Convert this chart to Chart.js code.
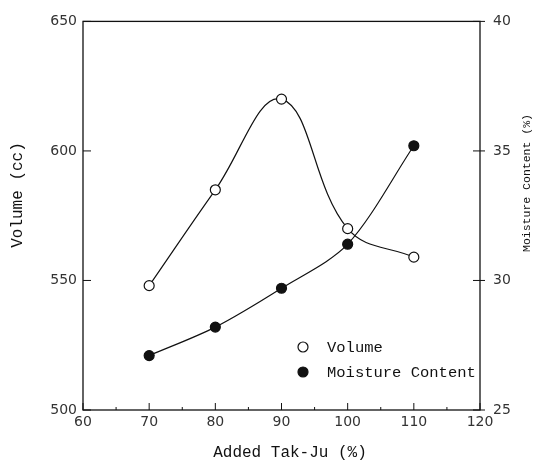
<!DOCTYPE html>
<html>
<head>
<meta charset="utf-8">
<title>Volume and Moisture Content vs Added Tak-Ju</title>
<script src="https://cdn.jsdelivr.net/npm/chart.js@4.4.1/dist/chart.umd.min.js"></script>
<style>
	body { margin: 0; background: #fff; }
	#chart-box { width: 548px; height: 461px; }
</style>
</head>
<body>
<div id="chart-box"><canvas id="lineChart" width="548" height="461"></canvas></div>
<script>
// Datos
const takJu = [70, 80, 90, 100, 110];
const volume = [548, 585, 620, 570, 559];
const moisture = [27.1, 28.2, 29.7, 31.4, 35.2];

const xTicks = [60, 70, 80, 90, 100, 110, 120];
const volumeTicks = [500, 550, 600, 650];
const moistureTicks = [25, 30, 35, 40];

const seriesLabels = ["Volume", "Moisture Content"];
const xTitle = "Added Tak-Ju (%)";
const volumeTitle = "Volume (cc)";
const moistureTitle = "Moisture Content (%)";

const ink = "#111";
const tickFont = { family: "DejaVu Sans", size: 14 };

function toPoints(xs, ys) {
	return xs.map((x, i) => ({ x: x, y: ys[i] }));
}

function fixedTicks(values) {
	return (scale) => {
		scale.ticks = values.map((v) => ({ value: v }));
	};
}

// marco, marcas hacia dentro, títulos y leyenda
const decorPlugin = {
	id: "decor",
	afterDatasetsDraw(chart, args, opts) {
		const { ctx, chartArea: a, scales } = chart;
		ctx.save();
		ctx.strokeStyle = ink;
		ctx.lineWidth = 1.3;
		ctx.strokeRect(a.left, a.top, a.right - a.left, a.bottom - a.top);

		ctx.lineWidth = 1;
		ctx.beginPath();
		xTicks.forEach((v) => {
			const px = scales.x.getPixelForValue(v);
			ctx.moveTo(px, a.bottom);
			ctx.lineTo(px, a.bottom - 7);
		});
		xTicks.slice(1).forEach((v, i) => {
			const px = scales.x.getPixelForValue((v + xTicks[i]) / 2);
			ctx.moveTo(px, a.bottom);
			ctx.lineTo(px, a.bottom - 3);
		});
		volumeTicks.forEach((v) => {
			const py = scales.y.getPixelForValue(v);
			ctx.moveTo(a.left, py);
			ctx.lineTo(a.left + 8, py);
		});
		moistureTicks.forEach((v) => {
			const py = scales.y1.getPixelForValue(v);
			ctx.moveTo(a.right - 7, py);
			ctx.lineTo(a.right + 5, py);
		});
		ctx.stroke();

		// títulos de los ejes
		ctx.fillStyle = ink;
		ctx.textAlign = "center";
		ctx.textBaseline = "middle";
		ctx.font = "16px 'Liberation Mono'";
		ctx.fillText(xTitle, opts.xTitle.x, opts.xTitle.y);

		ctx.save();
		ctx.translate(opts.yTitle.x, opts.yTitle.y);
		ctx.rotate(-Math.PI / 2);
		ctx.fillText(volumeTitle, 0, 0);
		ctx.restore();

		ctx.save();
		ctx.font = "11.5px 'Liberation Mono'";
		ctx.translate(opts.y1Title.x, opts.y1Title.y);
		ctx.rotate(-Math.PI / 2);
		ctx.fillText(moistureTitle, 0, 0);
		ctx.restore();

		// leyenda
		const lg = opts.legend;
		ctx.font = "15.5px 'Liberation Mono'";
		ctx.textAlign = "left";
		chart.data.datasets.forEach((ds, i) => {
			const y = lg.y + i * lg.gap;
			ctx.beginPath();
			ctx.arc(lg.x, y, ds.pointRadius, 0, Math.PI * 2);
			ctx.fillStyle = ds.pointBackgroundColor;
			ctx.fill();
			ctx.lineWidth = ds.pointBorderWidth;
			ctx.strokeStyle = ink;
			ctx.stroke();
			ctx.fillStyle = ink;
			ctx.fillText(ds.label, lg.x + 24, y + 1);
		});
		ctx.restore();
	},
};

function renderChart() {
	const ctx = document.getElementById("lineChart").getContext("2d");
	new Chart(ctx, {
		type: "line",
		data: {
			datasets: [
				{
					label: seriesLabels[0],
					data: toPoints(takJu, volume),
					yAxisID: "y",
					borderColor: ink,
					borderWidth: 1.2,
					tension: 0.4,
					pointRadius: 5,
					pointBackgroundColor: "#fff",
					pointBorderColor: ink,
					pointBorderWidth: 1.2,
				},
				{
					label: seriesLabels[1],
					data: toPoints(takJu, moisture),
					yAxisID: "y1",
					borderColor: ink,
					borderWidth: 1.2,
					tension: 0.3,
					pointRadius: 5,
					pointBackgroundColor: ink,
					pointBorderColor: ink,
					pointBorderWidth: 1.2,
				},
			],
		},
		options: {
			responsive: false,
			animation: false,
			layout: { padding: { top: 15, left: 0, right: 0, bottom: 0 } },
			plugins: {
				legend: { display: false },
				tooltip: { enabled: false },
				decor: {
					xTitle: { x: 290, y: 453 },
					yTitle: { x: 18, y: 195 },
					y1Title: { x: 527, y: 183 },
					legend: { x: 303, y: 347, gap: 25 },
				},
			},
			scales: {
				x: {
					type: "linear",
					min: 60,
					max: 120,
					afterBuildTicks: fixedTicks(xTicks),
					afterFit: (s) => { s.height = 51; },
					grid: { display: false, drawTicks: false },
					border: { display: false },
					ticks: { font: tickFont, color: "#333", padding: 4, maxRotation: 0 },
				},
				y: {
					position: "left",
					min: 500,
					max: 650,
					afterBuildTicks: fixedTicks(volumeTicks),
					afterFit: (s) => { s.width = 83; },
					grid: { display: false, drawTicks: false },
					border: { display: false },
					ticks: { font: tickFont, color: "#333", padding: 6 },
				},
				y1: {
					position: "right",
					min: 25,
					max: 40,
					afterBuildTicks: fixedTicks(moistureTicks),
					afterFit: (s) => { s.width = 68; },
					grid: { display: false, drawTicks: false },
					border: { display: false },
					ticks: { font: tickFont, color: "#333", padding: 13 },
				},
			},
		},
		plugins: [decorPlugin],
	});
}

document.addEventListener("DOMContentLoaded", () => {
	renderChart();
});
</script>
</body>
</html>
